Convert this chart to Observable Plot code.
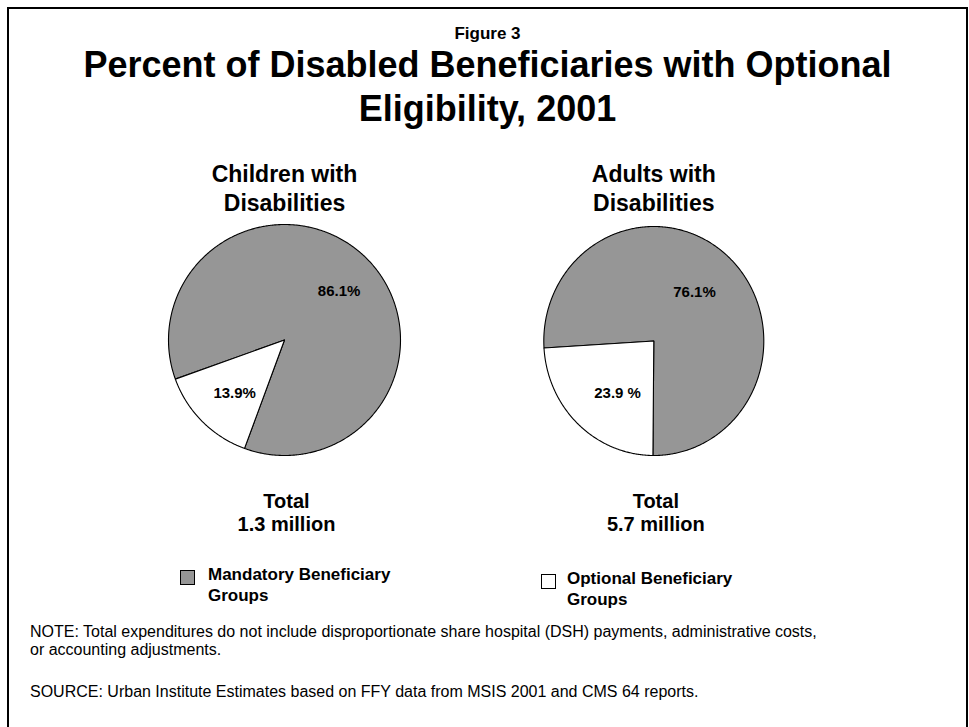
<!DOCTYPE html>
<html>
<head>
<meta charset="utf-8">
<script src="https://cdn.jsdelivr.net/npm/d3@7"></script>
<script src="https://cdn.jsdelivr.net/npm/@observablehq/plot@0.6"></script>
<style>
  html, body { margin: 0; padding: 0; background: #fff; }
  #page { position: relative; width: 969px; height: 727px; overflow: hidden;
          font-family: 'Liberation Sans', Arial, Helvetica, sans-serif; color: #000; background: #fff; }
  #frame { position: absolute; left: 7px; top: 7px; width: 961px; height: 800px;
           border: 2px solid #000; box-sizing: border-box; }
  .abs { position: absolute; white-space: nowrap; }
  #fig { left: 7px; width: 961px; top: 27.4px; text-align: center; font-size: 17px; line-height: 14px; height: 14px; font-weight: bold; }
  .tline { left: 7px; width: 961px; text-align: center; font-size: 36px; line-height: 28px; height: 28px; font-weight: bold; }
  .legbox { position: absolute; width: 15px; height: 15px; border: 1px solid #000; box-sizing: border-box; }
  .legtxt { position: absolute; font-size: 17px; line-height: 21px; font-weight: bold; white-space: nowrap; }
  .note { position: absolute; left: 30px; font-size: 16px; line-height: 18px; white-space: nowrap; }
  #chart { position: absolute; left: 0; top: 0; }
</style>
</head>
<body>
<div id="page">
  <div id="frame"></div>
  <div id="chart"></div>
</div>
<script>
// ---------------- data ----------------
const figureLabel = "Figure 3";
const titleLines = ["Percent of Disabled Beneficiaries with Optional", "Eligibility, 2001"];
const pieTitles = ["Children with\nDisabilities", "Adults with\nDisabilities"];
const totalLabels = ["Total\n1.3 million", "Total\n5.7 million"];
const categories = ["Mandatory Beneficiary Groups", "Optional Beneficiary Groups"];
const mandatoryShare = [86.1, 76.1];
const optionalShare = [13.9, 23.9];
const mandatoryLabels = ["86.1%", "76.1%"];
const optionalLabels = ["13.9%", "23.9 %"];
const noteLines = [
  "NOTE: Total expenditures do not include disproportionate share hospital (DSH) payments, administrative costs,",
  "or accounting adjustments."
];
const sourceLine = "SOURCE: Urban Institute Estimates based on FFY data from MSIS 2001 and CMS 64 reports.";

// ---------------- layout / style ----------------
const FONT = "'Liberation Sans', Arial, Helvetica, sans-serif";
const COLORS = ["#969696", "#ffffff"];
const PIES = [
  {cx: 284, cy: 339.5, rx: 116, ry: 115.5, start: 250.2,
   labelPos: [{r: 0.63, da: 3.2}, {r: 0.63, da: -2.2}]},
  {cx: 653.3, cy: 340.5, rx: 110, ry: 114.5, start: 266.5,
   labelPos: [{r: 0.563, da: -2.4}, {r: 0.561, da: -7.5}]}
];
const HEADING_BASELINE = 210;
const TOTAL_BASELINE = 530;
const TITLE_TOPS = [50.7, 94.7];

// ---------------- geometry from values ----------------
const slices = [];
const sliceLabels = [];
PIES.forEach((p, i) => {
  const arcs = d3.pie().sort(null)
    .startAngle(p.start * Math.PI / 180)
    .endAngle((p.start + 360) * Math.PI / 180)([mandatoryShare[i], optionalShare[i]]);
  arcs.forEach((a, j) => {
    const key = i + "-" + j;
    const category = categories[j];
    slices.push({key, category, x: p.cx, y: p.cy});
    const n = Math.ceil((a.endAngle - a.startAngle) / (Math.PI / 360));
    for (let k = 0; k <= n; k++) {
      const t = a.startAngle + (a.endAngle - a.startAngle) * k / n;
      slices.push({key, category, x: p.cx + p.rx * Math.sin(t), y: p.cy - p.ry * Math.cos(t)});
    }
    slices.push({key, category, x: p.cx, y: p.cy});
    const lp = p.labelPos[j];
    const mid = (a.startAngle + a.endAngle) / 2 + lp.da * Math.PI / 180;
    sliceLabels.push({
      text: j === 0 ? mandatoryLabels[i] : optionalLabels[i],
      x: p.cx + lp.r * p.rx * Math.sin(mid),
      y: p.cy - lp.r * p.ry * Math.cos(mid)
    });
  });
});

const chart = Plot.plot({
  width: 969,
  height: 727,
  margin: 0,
  x: {domain: [0, 969], range: [0, 969], axis: null},
  y: {domain: [0, 727], range: [0, 727], axis: null},
  color: {domain: categories, range: COLORS},
  style: {fontFamily: FONT, background: "transparent", color: "#000"},
  marks: [
    Plot.line(slices, {x: "x", y: "y", z: "key", fill: "category", stroke: "#000", strokeWidth: 1.1, strokeLinejoin: "round"}),
    Plot.text(sliceLabels, {x: "x", y: "y", text: "text", fontSize: 15, fontWeight: "bold", fill: "#000"}),
    Plot.text(pieTitles, {x: (d, i) => PIES[i].cx, y: () => HEADING_BASELINE, text: d => d,
      fontSize: 23, fontWeight: "bold", lineAnchor: "bottom", lineHeight: 1.22, fill: "#000"}),
    Plot.text(totalLabels, {x: (d, i) => PIES[i].cx + 2, y: () => TOTAL_BASELINE, text: d => d,
      fontSize: 20, fontWeight: "bold", lineAnchor: "bottom", lineHeight: 1.15, fill: "#000"})
  ]
});
document.getElementById("chart").appendChild(chart);

// ---------------- html text ----------------
const page = document.getElementById("page");
function add(html, cls, id, css) {
  const d = document.createElement("div");
  d.className = cls; if (id) d.id = id; d.innerHTML = html;
  if (css) Object.assign(d.style, css);
  page.appendChild(d);
  return d;
}
add(figureLabel, "abs", "fig");
titleLines.forEach((t, i) => add(t, "abs tline", null, {top: TITLE_TOPS[i] + "px"}));

const legendPos = [
  {box: {left: "180px", top: "570px"}, txt: {left: "208px", top: "563.6px"}},
  {box: {left: "541px", top: "574px"}, txt: {left: "567px", top: "567.6px"}}
];
categories.forEach((c, i) => {
  add("", "legbox", null, Object.assign({background: COLORS[i]}, legendPos[i].box));
  add(c.replace(" Groups", "<br>Groups"), "legtxt", null, legendPos[i].txt);
});
add(noteLines.join("<br>"), "note", null, {top: "622.5px"});
add(sourceLine, "note", null, {top: "682.5px"});
</script>
</body>
</html>
